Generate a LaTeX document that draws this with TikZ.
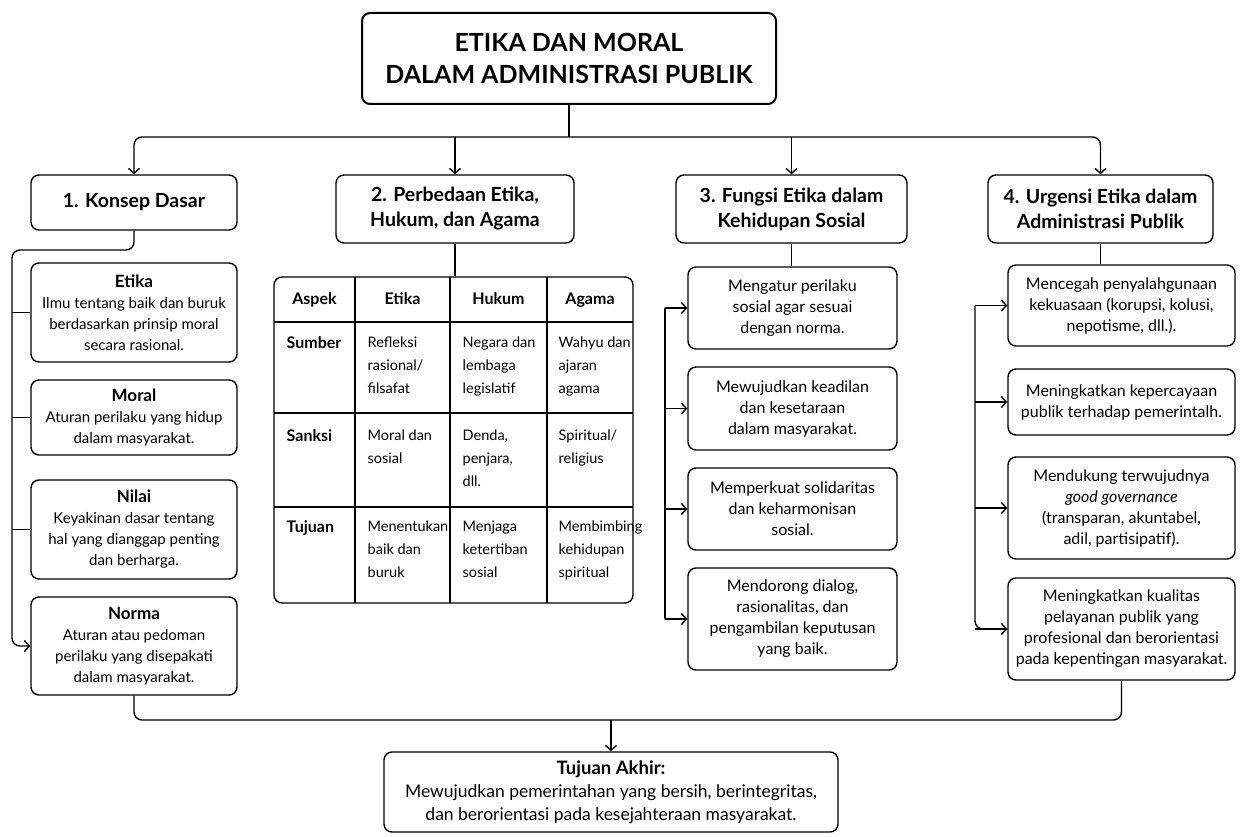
\documentclass[tikz,border=0pt]{standalone}
\usepackage{fontspec}
\setmainfont{Lato}
\usetikzlibrary{arrows.meta,positioning}
\newcommand{\namaisi}[1]{{\fontsize{17}{21}\selectfont\bfseries #1}}

\begin{document}
\begin{tikzpicture}[x=1pt,y=-1pt,line width=1.4pt,
    >={Straight Barb[length=5pt,width=11pt]},
    kotak/.style={draw,rounded corners=8pt,align=center,inner sep=3pt,fill=white},
    judul/.style={kotak,line width=2pt,minimum width=414pt,minimum height=91pt,
      font=\fontsize{25}{32}\selectfont\bfseries},
    kepala/.style={kotak,minimum height=68pt,font=\fontsize{19.5}{25}\selectfont\bfseries},
    isi/.style={kotak,font=\fontsize{16}{21}\selectfont},
    kol1/.style={isi,minimum width=206pt,font=\fontsize{15}{21}\selectfont},
    kol3/.style={isi,minimum width=209pt},
    kol4/.style={isi,minimum width=227pt},
    kepsel/.style={anchor=base,font=\fontsize{16}{23}\selectfont\bfseries},
    sel/.style={anchor=north west,align=left,inner sep=0pt,font=\fontsize{14.5}{23}\selectfont}]

  \fill[white] (0,0) rectangle (1240,837);
  \useasboundingbox (0,0) rectangle (1240,837);

  \node[judul] (judul) at (569,58.5) {ETIKA DAN MORAL\\DALAM ADMINISTRASI PUBLIK};

  %% kepala kolom
  \node[kepala,minimum width=206pt,minimum height=55pt] (k1) at (134,202.5) {1. Konsep Dasar};
  \node[kepala,minimum width=238pt] (k2) at (455,209) {2. Perbedaan Etika,\\Hukum, dan Agama};
  \node[kepala,minimum width=231pt] (k3) at (791.5,209) {3. Fungsi Etika dalam\\Kehidupan Sosial};
  \node[kepala,minimum width=225pt] (k4) at (1100.5,209) {4. Urgensi Etika dalam\\Administrasi Publik};

  \coordinate (atas) at (569,137);
  \draw (judul.south) -- (atas);
  \draw[->,rounded corners=8pt] (atas) -| (k1.north);
  \draw[->,rounded corners=8pt] (atas) -| (k4.north);
  \draw[->] (k2.north |- atas) -- (k2.north);
  \draw[->] (k3.north |- atas) -- (k3.north);

  %% 1. konsep dasar
  \node[kol1,minimum height=99pt] (etika) at (134,312.5) {\namaisi{Etika}\\Ilmu tentang baik dan buruk\\berdasarkan prinsip moral\\secara rasional.};
  \node[kol1,minimum height=75pt] (moral) at (134,417.5) {\namaisi{Moral}\\Aturan perilaku yang hidup\\dalam masyarakat.};
  \node[kol1,minimum height=99pt] (nilai) at (134,529.5) {\namaisi{Nilai}\\Keyakinan dasar tentang\\hal yang dianggap penting\\dan berharga.};
  \node[kol1,minimum height=98pt] (norma) at (134,646) {\namaisi{Norma}\\Aturan atau pedoman\\perilaku yang disepakati\\dalam masyarakat.};

  \coordinate (rel1) at (12,250);
  \draw[->,rounded corners=8pt] (k1.south) |- (rel1) |- (norma.west);
  \foreach \n in {etika,moral,nilai}
    \draw (rel1 |- \n.west) -- (\n.west);

  %% 2. tabel perbedaan
  \node[draw,rounded corners=8pt,minimum width=359pt,minimum height=326pt] (tabel) at (453.5,440) {};
  \draw (k2.south) -- (k2.south |- tabel.north);
  \foreach \x in {355,450,547}
    \draw (\x,277) -- (\x,603);
  \foreach \y in {322,413,507}
    \draw (274,\y) -- (633,\y);

  \foreach \teks/\x in {Aspek/314.5,Etika/402.5,Hukum/498.5,Agama/590}
    \node[kepsel] (h-\teks) at (\x,305) {\teks};

  \node[sel,font=\fontsize{16}{23}\selectfont\bfseries] (s-1-1) at (286,336) {Sumber};
  \node[sel] (s-1-2) at (367,336) {Refleksi\\rasional/\\filsafat};
  \node[sel] (s-1-3) at (462,336) {Negara dan\\lembaga\\legislatif};
  \node[sel] (s-1-4) at (558,336) {Wahyu dan\\ajaran\\agama};

  \node[sel,font=\fontsize{16}{23}\selectfont\bfseries] (s-2-1) at (286,429) {Sanksi};
  \node[sel] (s-2-2) at (367,429) {Moral dan\\sosial};
  \node[sel] (s-2-3) at (462,429) {Denda,\\penjara,\\dll.};
  \node[sel] (s-2-4) at (558,429) {Spiritual/\\religius};

  \node[sel,font=\fontsize{16}{23}\selectfont\bfseries] (s-3-1) at (286,520) {Tujuan};
  \node[sel] (s-3-2) at (367,520) {Menentukan\\baik dan\\buruk};
  \node[sel] (s-3-3) at (462,520) {Menjaga\\ketertiban\\sosial};
  \node[sel] (s-3-4) at (558,520) {Membimbing\\kehidupan\\spiritual};

  %% 3. fungsi etika
  \node[kol3,minimum height=82pt] (f1) at (792.5,308) {Mengatur perilaku\\sosial agar sesuai\\dengan norma.};
  \node[kol3,minimum height=83pt] (f2) at (792.5,408.5) {Mewujudkan keadilan\\dan kesetaraan\\dalam masyarakat.};
  \node[kol3,minimum height=82pt] (f3) at (792.5,509) {Memperkuat solidaritas\\dan keharmonisan\\sosial.};
  \node[kol3,minimum height=102pt] (f4) at (792.5,619) {Mendorong dialog,\\rasionalitas, dan\\pengambilan keputusan\\yang baik.};

  \draw (k3.south) -- (k3.south |- f1.north);
  \coordinate (rel3) at (665,0);
  \draw (rel3 |- f1.west) -- (rel3 |- f4.west);
  \foreach \n in {f1,f2,f3,f4}
    \draw[->] (rel3 |- \n.west) -- (\n.west);

  %% 4. urgensi etika
  \node[kol4,minimum height=81pt] (u1) at (1121.5,305.5) {Mencegah penyalahgunaan\\kekuasaan (korupsi, kolusi,\\nepotisme, dll.).};
  \node[kol4,minimum height=66pt] (u2) at (1121.5,402) {Meningkatkan kepercayaan\\publik terhadap pemerintalh.};
  \node[kol4,minimum height=102pt] (u3) at (1121.5,508) {Mendukung terwujudnya\\\textit{good governance}\\(transparan, akuntabel,\\adil, partisipatif).};
  \node[kol4,minimum height=102pt] (u4) at (1121.5,629) {Meningkatkan kualitas\\pelayanan publik yang\\profesional dan berorientasi\\pada kepentingan masyarakat.};

  \draw (k4.south) -- (k4.south |- u1.north);
  \coordinate (rel4) at (975,0);
  \draw[rounded corners=8pt] (rel4 |- u1.west) |- (u4.west);
  \foreach \n in {u1,u2,u3,u4}
    \draw[->] (rel4 |- \n.west) -- (\n.west);

  %% tujuan akhir
  \node[isi,minimum width=454pt,minimum height=80pt,font=\fontsize{17.5}{23}\selectfont] (akhir) at (611,792) {{\fontsize{18.5}{23}\selectfont\bfseries Tujuan Akhir:}\\Mewujudkan pemerintahan yang bersih, berintegritas,\\dan berorientasi pada kesejahteraan masyarakat.};

  \coordinate (bawah) at (611,720);
  \draw[rounded corners=8pt] (norma.south) |- (bawah -| u4.south) -- (u4.south);
  \draw[->] (bawah) -- (akhir.north);

\end{tikzpicture}
\end{document}
